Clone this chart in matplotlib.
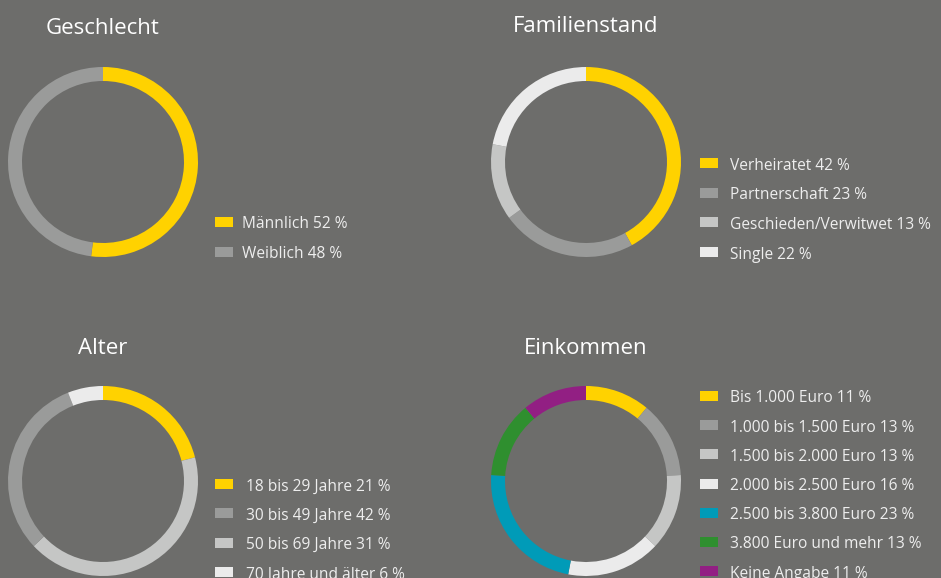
import matplotlib
matplotlib.use("Agg")
import matplotlib.pyplot as plt
from matplotlib.patches import Rectangle

# Farben
bg = '#6d6d6b'
gelb = '#ffd200'
grau1 = '#9a9b9a'
grau2 = '#c5c6c5'
weiss = '#ebebeb'
tuerkis = '#009bb8'
gruen = '#2f8f2f'
lila = '#921f83'

# Daten
geschlecht_labels = ['Männlich', 'Weiblich']
geschlecht_werte = [52, 48]

familie_labels = ['Verheiratet', 'Partnerschaft', 'Geschieden/Verwitwet', 'Single']
familie_werte = [42, 23, 13, 22]

alter_labels = ['18 bis 29 Jahre', '30 bis 49 Jahre', '50 bis 69 Jahre', '70 Jahre und älter']
alter_werte = [21, 42, 31, 6]

einkommen_labels = ['Bis 1.000 Euro', '1.000 bis 1.500 Euro', '1.500 bis 2.000 Euro',
                    '2.000 bis 2.500 Euro', '2.500 bis 3.800 Euro', '3.800 Euro und mehr',
                    'Keine Angabe']
einkommen_werte = [11, 13, 13, 16, 23, 13, 11]

W, H = 941, 578
plt.rcParams['font.family'] = ['Open Sans', 'DejaVu Sans']
fig = plt.figure(figsize=(W / 100, H / 100), dpi=100, facecolor=bg)
ax = fig.add_axes([0, 0, 1, 1])
ax.set_xlim(0, W)
ax.set_ylim(0, H)
ax.set_aspect('equal')
ax.axis('off')


def donut(titel, tx, ty, cx, cy, werte, labels, farben, lx, ly0, dy, textdx,
          ringfarben=None):
    ax.pie(werte, colors=ringfarben or farben, startangle=90, counterclock=False,
           center=(cx, H - cy), radius=95, wedgeprops=dict(width=14, linewidth=0))
    ax.text(tx, H - ty, titel, color='white', fontsize=16, ha='center', va='center')
    for i, (lab, w) in enumerate(zip(labels, werte)):
        y = H - (ly0 + i * dy)
        ax.add_patch(Rectangle((lx, y - 5), 18, 10, color=farben[i], linewidth=0))
        ax.text(lx + textdx, y - 0.5, f'{lab} {w} %', color='#eeeeee', fontsize=11.2,
                ha='left', va='center_baseline')


donut('Geschlecht', 103, 28, 103, 162, geschlecht_werte, geschlecht_labels,
      [gelb, grau1], 215, 222, 30, 27)
donut('Familienstand', 586, 27, 586, 162, familie_werte, familie_labels,
      [gelb, grau1, grau2, weiss], 700, 163, 29.7, 30)
# im Original sind die Grautöne im Ring gegenüber der Legende vertauscht
donut('Alter', 103, 348, 103, 481, alter_werte, alter_labels,
      [gelb, grau1, grau2, weiss], 215, 484, 29.3, 31,
      ringfarben=[gelb, grau2, grau1, weiss])
donut('Einkommen', 586, 348, 586, 481, einkommen_werte, einkommen_labels,
      [gelb, grau1, grau2, weiss, tuerkis, gruen, lila], 700, 396, 29.2, 30)

ax.set_xlim(0, W)
ax.set_ylim(0, H)
fig.savefig('out.png', dpi=100, facecolor=bg)
